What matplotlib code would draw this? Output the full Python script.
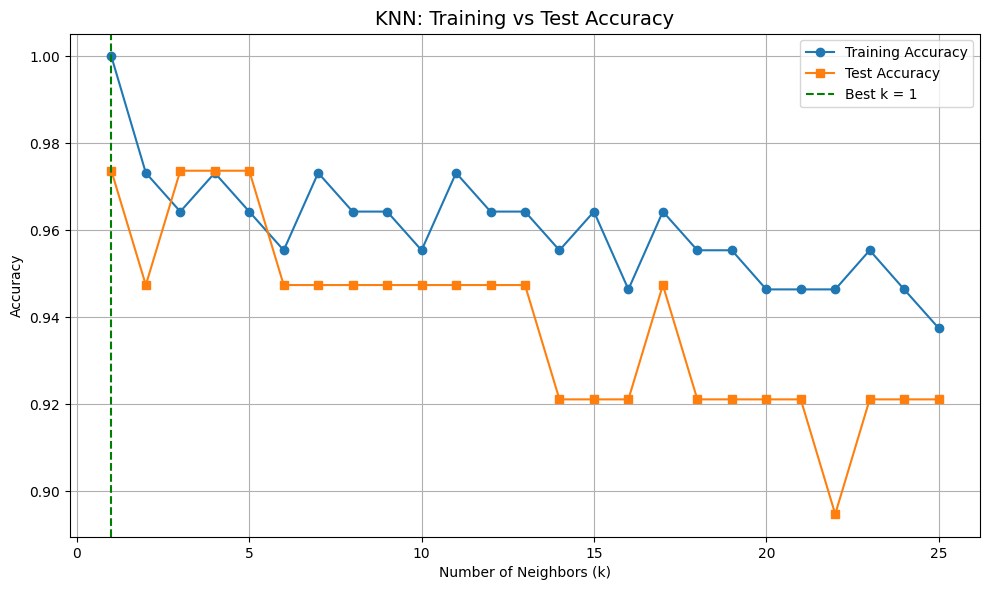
import matplotlib
matplotlib.use('Agg')
import matplotlib.pyplot as plt

# data
k_values = list(range(1, 26))
train_acc = [1.0, 0.9732, 0.9643, 0.9732, 0.9643, 0.9554, 0.9732, 0.9643, 0.9643, 0.9554,
             0.9732, 0.9643, 0.9643, 0.9554, 0.9643, 0.9464, 0.9643, 0.9554, 0.9554, 0.9464,
             0.9464, 0.9464, 0.9554, 0.9464, 0.9375]
test_acc = [0.9737, 0.9474, 0.9737, 0.9737, 0.9737, 0.9474, 0.9474, 0.9474, 0.9474, 0.9474,
            0.9474, 0.9474, 0.9474, 0.9211, 0.9211, 0.9211, 0.9474, 0.9211, 0.9211, 0.9211,
            0.9211, 0.8947, 0.9211, 0.9211, 0.9211]
best_k = 1

# plot
fig, ax = plt.subplots(figsize=(9.9, 5.9), dpi=100)
ax.plot(k_values, train_acc, marker='o', label='Training Accuracy')
ax.plot(k_values, test_acc, marker='s', label='Test Accuracy')
ax.axvline(x=best_k, color='green', linestyle='--', label='Best k = {}'.format(best_k))
ax.set_title('KNN: Training vs Test Accuracy', fontsize=14)
ax.set_xlabel('Number of Neighbors (k)')
ax.set_ylabel('Accuracy')
ax.legend()
ax.grid(True)
fig.subplots_adjust(left=0.0707, right=0.9899, top=0.9432, bottom=0.0898)
plt.savefig('out.png', dpi=100)
plt.close()
